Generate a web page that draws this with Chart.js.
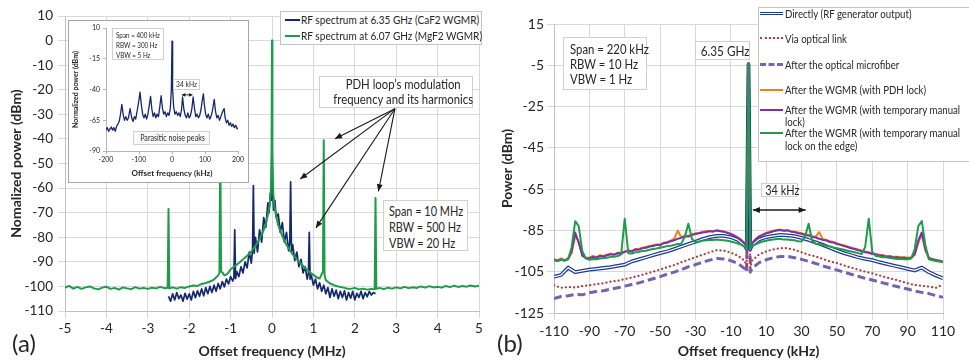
<!DOCTYPE html>
<html>
<head>
<meta charset="utf-8">
<script src="https://cdn.jsdelivr.net/npm/chart.js@4.4.1/dist/chart.umd.min.js"></script>
<style>
body{margin:0;background:#fff;font-family:Lato,sans-serif;color:#262626}
#fig{position:relative;width:969px;height:362px;overflow:hidden;background:#fff}
canvas{position:absolute;left:0;top:0}
.box{position:absolute;background:#fff;border:1px solid #d0d0d0;box-sizing:border-box;white-space:nowrap}
.t{position:absolute;white-space:nowrap;line-height:1;transform:scaleX(0.84);transform-origin:0 0}
.n{display:inline-block;transform:scaleX(0.84);transform-origin:0 0}
.c{display:inline-block;transform:scaleX(0.84);transform-origin:50% 0}
.s{position:absolute;height:0}
.lg{font-size:11.5px}
</style>
</head>
<body>
<div id="fig">
  <canvas id="chartA" width="490" height="362"></canvas>
  <canvas id="chartB" width="479" height="362" style="left:490px"></canvas>
  <div id="inset" style="position:absolute;left:68px;top:20px;width:181px;height:163px;border:1px solid #a6a6a6;background:#fff;box-sizing:border-box">
    <canvas id="chartInset" width="179" height="161"></canvas>
  </div>

  <!-- inset annotations -->
  <div class="box" style="left:112px;top:28px;width:52px;height:32px;font-size:7.5px;line-height:10px;padding:2px 0 0 3px"><span class="n">Span = 400 kHz<br>RBW = 300 Hz<br>VBW = 5 Hz</span></div>
  <div class="box" style="left:173px;top:79px;width:27px;height:11px;font-size:8px;line-height:9px;text-align:center"><span class="c">34 kHz</span></div>
  <div class="box" style="left:133px;top:131px;width:77px;height:14px;font-size:8.5px;line-height:12px;text-align:center;background:#fafafa"><span class="c">Parasitic noise peaks</span></div>

  <!-- panel (a) annotations -->
  <div class="box" style="left:280px;top:11px;width:202px;height:34px;border-color:#c4c4c4"></div>
  <div class="s" style="left:285px;top:19px;width:15px;border-top:2px solid #15286b"></div>
  <div class="t" style="left:301px;top:14px;font-size:12px">RF spectrum at 6.35 GHz (CaF2 WGMR)</div>
  <div class="s" style="left:285px;top:35px;width:15px;border-top:2px solid #1f9c4b"></div>
  <div class="t" style="left:301px;top:30px;font-size:12px">RF spectrum at 6.07 GHz (MgF2 WGMR)</div>

  <div class="box" style="left:319px;top:76px;width:154px;height:32px;text-align:center;font-size:13.5px;line-height:15px;padding-top:0"><span class="c">PDH loop’s modulation<br>frequency and its harmonics</span></div>
  <div class="box" style="left:383px;top:200px;width:85px;height:51px;font-size:13px;line-height:16px;padding:2px 0 0 5px"><span class="n">Span = 10 MHz<br>RBW = 500 Hz<br>VBW = 20 Hz</span></div>
  <div class="t" style="left:12px;top:331px;font-size:24px;transform:none">(a)</div>

  <!-- panel (b) annotations -->
  <div class="box" style="left:563px;top:37px;width:84px;height:53px;font-size:13.5px;line-height:15px;padding:4px 0 0 6px"><span class="n">Span = 220 kHz<br>RBW = 10 Hz<br>VBW = 1 Hz</span></div>
  <div class="box" style="left:695px;top:41px;width:55px;height:19px;font-size:14px;line-height:17px;text-align:center"><span class="c">6.35 GHz</span></div>
  <div class="box" style="left:761px;top:183px;width:37px;height:14px;font-size:13px;line-height:12px;text-align:center"><span class="c">34 kHz</span></div>
  <div class="t" style="left:497px;top:331px;font-size:24px;transform:none">(b)</div>

  <div class="box" style="left:758px;top:7px;width:212px;height:155px;border-color:#c4c4c4"></div>
  <div class="s" style="left:760px;top:12px;width:23px;height:1px;border-top:1.5px solid #1d3a8f;border-bottom:1.5px solid #1d3a8f;background:#fff"></div>
  <div class="t lg" style="left:785px;top:8px">Directly (RF generator output)</div>
  <div class="s" style="left:760px;top:37px;width:23px;border-top:2px dotted #b23b3b"></div>
  <div class="t lg" style="left:785px;top:33px">Via optical link</div>
  <div class="s" style="left:760px;top:63px;width:23px;border-top:3px dashed #7363b0"></div>
  <div class="t lg" style="left:785px;top:59px">After the optical microfiber</div>
  <div class="s" style="left:760px;top:89px;width:23px;border-top:2px solid #f07d1f"></div>
  <div class="t lg" style="left:785px;top:84px">After the WGMR (with PDH lock)</div>
  <div class="s" style="left:760px;top:109px;width:23px;border-top:2px solid #7a30a8"></div>
  <div class="t lg" style="left:785px;top:104px;line-height:12px">After the WGMR (with temporary manual<br>lock)</div>
  <div class="s" style="left:760px;top:132px;width:23px;border-top:2px solid #1f9c4b"></div>
  <div class="t lg" style="left:785px;top:127px;line-height:12.5px">After the WGMR (with temporary manual<br>lock on the edge)</div>
</div>

<script>
// ---- (a) dati spettro ampio, MHz / dBm ----
const freqMgF2 = [-5,-4.9,-4.8,-4.7,-4.6,-4.5,-4.4,-4.3,-4.2,-4.1,-4,-3.9,-3.8,-3.7,-3.6,-3.5,-3.4,-3.3,-3.2,-3.1,-3,-2.9,-2.8,-2.7,-2.6,-2.52,-2.5,-2.48,-2.4,-2.3,-2.2,-2.1,-2,-1.9,-1.8,-1.7,-1.6,-1.5,-1.4,-1.3,-1.27,-1.25,-1.23,-1.2,-1.15,-1.1,-1.05,-1,-0.9,-0.8,-0.7,-0.6,-0.5,-0.4,-0.3,-0.2,-0.15,-0.1,-0.06,-0.03,-0.01,0,0.01,0.03,0.06,0.1,0.15,0.2,0.3,0.4,0.5,0.6,0.7,0.8,0.9,1,1.1,1.15,1.2,1.23,1.25,1.27,1.3,1.4,1.5,1.6,1.7,1.8,1.9,2,2.1,2.2,2.3,2.4,2.48,2.5,2.52,2.6,2.7,2.8,2.9,3,3.1,3.2,3.3,3.4,3.5,3.6,3.7,3.8,3.9,4,4.1,4.2,4.3,4.4,4.5,4.6,4.7,4.8,4.9,5];
const powMgF2 = [-100.5,-99.8,-100.9,-100.2,-101.0,-100.4,-100.0,-100.8,-101.2,-100.5,-100.1,-101.0,-100.6,-101.3,-100.4,-100.8,-101.1,-100.3,-100.9,-100.6,-101.0,-100.5,-100.8,-100.2,-100.7,-100.5,-68.5,-100.8,-100.4,-100.9,-100.3,-100.6,-100.0,-99.6,-99.8,-99.0,-98.6,-98.0,-97.2,-95.5,-94.5,-40,-94.0,-94.3,-95.5,-95.2,-94.3,-93.0,-91.8,-90.5,-89.0,-87.5,-85.8,-83.5,-80.8,-77.0,-74.5,-71.0,-67.0,-62.0,-45,0,-45,-62,-67.5,-71.5,-75,-77.5,-81.5,-84.5,-87.0,-89.0,-90.8,-92.5,-94.0,-95.3,-96.5,-96.8,-95.0,-94.2,-40.5,-95.5,-97.5,-98.8,-99.5,-100.0,-100.4,-100.8,-101.0,-100.6,-101.2,-100.9,-101.3,-101.0,-101.2,-64,-101.0,-100.6,-101.1,-100.5,-100.9,-100.4,-100.8,-100.2,-100.7,-100.3,-100.6,-100.0,-100.5,-99.9,-100.4,-100.1,-100.5,-99.8,-100.3,-99.7,-100.2,-99.8,-100.1,-99.6,-100.0,-99.7];

const freqCaF2 = [-2.5,-2.45,-2.4,-2.35,-2.3,-2.25,-2.2,-2.15,-2.1,-2.05,-2,-1.95,-1.9,-1.85,-1.8,-1.75,-1.7,-1.65,-1.6,-1.55,-1.5,-1.45,-1.4,-1.35,-1.3,-1.25,-1.2,-1.15,-1.1,-1.05,-1,-0.95,-0.92,-0.9,-0.88,-0.85,-0.8,-0.75,-0.7,-0.65,-0.6,-0.55,-0.5,-0.47,-0.45,-0.43,-0.4,-0.35,-0.3,-0.25,-0.2,-0.15,-0.1,-0.07,-0.04,-0.02,0,0.02,0.04,0.07,0.1,0.15,0.2,0.25,0.3,0.35,0.4,0.43,0.45,0.47,0.5,0.55,0.6,0.65,0.7,0.75,0.8,0.85,0.88,0.9,0.92,0.95,1,1.05,1.1,1.15,1.2,1.25,1.3,1.35,1.4,1.45,1.5,1.55,1.6,1.65,1.7,1.75,1.8,1.85,1.9,1.95,2,2.05,2.1,2.15,2.2,2.25,2.3,2.35,2.4,2.45,2.5];
const powCaF2 = [-104.0,-106.0,-103.0,-105.5,-102.5,-105.0,-103.5,-106.0,-102.8,-105.2,-103.0,-105.5,-102.0,-104.6,-101.8,-104.0,-101.0,-103.8,-100.5,-103.0,-100.0,-102.5,-99.5,-102.0,-98.8,-101.0,-98.0,-100.2,-97.0,-99.0,-96.0,-97.8,-96.5,-77.0,-96.8,-94.0,-96.0,-92.0,-94.5,-90.0,-92.5,-86.0,-90.5,-85.0,-59.0,-86.5,-80.0,-86.0,-77.0,-82.0,-72.0,-76.0,-66.0,-70.0,-62.0,-65.0,-57.0,-63.0,-69.0,-65.0,-72.0,-70.5,-78.0,-74.0,-82.0,-78.0,-85.5,-82.0,-57.5,-86.0,-83.0,-89.5,-86.0,-92.0,-89.0,-94.5,-92.0,-97.0,-94.5,-78.0,-97.0,-95.5,-99.5,-97.0,-101.0,-98.5,-102.0,-99.5,-103.0,-100.5,-104.5,-101.0,-104.0,-101.5,-105.0,-102.0,-104.5,-101.8,-105.5,-102.5,-104.8,-102.0,-105.5,-102.8,-104.5,-102.0,-105.0,-102.5,-104.2,-102.0,-103.5,-102.5,-103.0];

// ---- riquadro: kHz / dBm ----
const freqInset = [-200,-196,-192,-188,-184,-180,-176,-172,-168,-164,-160,-156,-152,-148,-144,-140,-136,-132,-127,-122,-118,-114,-110,-106,-101,-97,-93,-89,-85,-81,-77,-73,-69,-65,-61,-57,-53,-49,-45,-41,-37,-33,-29,-25,-21,-17,-13,-9,-5,-2,0,2,5,9,13,17,21,25,29,32,36,40,44,48,52,56,60,64,68,72,76,80,84,88,91,95,98,102,106,110,114,118,122,128,132,136,140,144,148,153,158,161,165,169,173,177,181,185,189,193,197,200];
const powInset = [-73,-71,-74,-72,-70.5,-73,-71,-74,-70,-68,-66,-60,-52,-60,-65,-62,-65,-63,-55.5,-63,-66,-62,-64,-58,-50,-42,-52,-60,-63,-60,-64,-60,-53,-45.5,-56,-62,-59,-63,-60,-62,-54,-45,-55,-60,-58,-62,-59,-61,-55,-40,-0.5,-40,-54,-60,-58,-61,-59,-62,-56,-46,-56,-61,-63,-59,-63,-61,-56,-46,-55,-62,-60,-63,-61,-56,-50,-43.5,-52,-60,-63,-60,-64,-62,-58,-48,-58,-63,-61,-65,-62,-58,-55.5,-63,-67,-65,-69,-67,-70,-68,-71,-69,-72,-71];

// ---- (b) kHz / dBm ----
const freqFine = [-110,-108,-106,-104,-102,-100,-98,-96,-94,-92,-90,-88,-86,-84,-82,-80,-78,-76,-74,-72,-70,-68,-66,-64,-62,-60,-58,-56,-54,-52,-50,-48,-46,-44,-42,-40,-38,-36,-34,-32,-30,-28,-26,-24,-22,-20,-18,-16,-14,-12,-10,-8,-6,-4,-2,-1,0,1,2,4,6,8,10,12,14,16,18,20,22,24,26,28,30,32,34,36,38,40,42,44,46,48,50,52,54,56,58,60,62,64,66,68,70,72,74,76,78,80,82,84,86,88,90,92,94,96,98,100,102,104,106,108,110];
const powPdh = [-99.0,-99.4,-98.6,-99.4,-98.8,-96.0,-87.5,-90.5,-96.8,-98.2,-98.2,-97.4,-98.0,-97.0,-97.4,-96.8,-96.2,-96.6,-95.8,-95.8,-95.2,-94.6,-95.0,-94.0,-94.0,-93.4,-93.0,-92.6,-92.2,-91.8,-91.8,-91.0,-90.6,-90.0,-89.0,-85.0,-88.4,-87.6,-87.6,-87.0,-86.4,-86.2,-85.8,-85.4,-85.2,-85.4,-85.0,-85.2,-85.6,-86.0,-86.6,-87.4,-88.4,-89.6,-91.4,-93.0,-4.0,-93.0,-91.2,-89.2,-87.8,-87.0,-86.2,-85.6,-85.2,-84.8,-84.6,-85.0,-84.8,-85.4,-85.6,-86.0,-86.4,-86.8,-87.2,-87.8,-88.0,-85.8,-89.2,-89.6,-90.2,-90.6,-91.2,-91.8,-92.2,-92.8,-93.2,-93.8,-94.2,-94.8,-95.2,-95.6,-96.0,-96.4,-96.8,-97.0,-97.4,-97.4,-97.8,-97.8,-98.0,-98.0,-98.2,-98.0,-96.8,-91.0,-87.0,-94.6,-98.2,-98.8,-99.2,-99.6,-100.0];
const powManual = [-99.2,-99.8,-99.0,-99.6,-98.6,-95.0,-86.0,-91.0,-97.2,-98.4,-98.6,-97.8,-98.2,-97.4,-97.6,-97.0,-96.6,-96.8,-96.0,-96.2,-95.4,-95.0,-95.2,-94.2,-94.4,-93.6,-93.4,-92.8,-92.6,-92.0,-92.2,-91.2,-91.0,-90.2,-89.8,-89.0,-88.6,-87.8,-88.0,-87.2,-86.8,-86.4,-86.0,-85.8,-85.4,-85.6,-85.0,-85.4,-85.6,-86.2,-86.8,-87.6,-88.6,-89.8,-91.6,-93.0,-4.0,-93.2,-91.4,-89.4,-88.0,-87.2,-86.4,-86.0,-85.4,-85.0,-84.8,-85.2,-85.0,-85.6,-85.8,-86.4,-86.6,-87.2,-87.4,-88.2,-88.4,-89.0,-89.6,-89.8,-90.6,-90.8,-91.6,-92.0,-92.6,-93.0,-93.6,-94.0,-94.6,-95.0,-95.6,-95.8,-96.4,-96.6,-97.2,-97.2,-97.8,-97.6,-98.2,-98.0,-98.4,-98.2,-98.6,-98.4,-96.6,-90.0,-86.0,-94.0,-98.4,-99.0,-99.4,-99.8,-100.4];
const powEdge = [-99.4,-99.8,-99.2,-99.6,-99.0,-93.0,-80.5,-83.0,-95.0,-98.6,-99.2,-98.8,-99.0,-98.6,-98.4,-98.2,-97.8,-97.8,-97.4,-96.6,-79.3,-96.0,-96.2,-95.6,-95.4,-95.0,-94.8,-94.4,-94.0,-93.8,-93.4,-93.0,-92.6,-92.4,-92.0,-91.6,-91.4,-88.0,-81.8,-89.0,-90.8,-90.4,-90.0,-89.8,-89.6,-89.6,-89.4,-89.6,-89.8,-90.0,-90.4,-90.8,-91.4,-92.0,-93.0,-93.6,-4.2,-93.6,-92.6,-91.8,-91.0,-90.4,-90.0,-89.6,-89.4,-89.2,-89.2,-89.4,-89.4,-89.6,-89.8,-90.2,-90.4,-88.0,-81.8,-90.0,-91.4,-91.6,-92.0,-92.4,-92.8,-93.2,-93.6,-94.0,-94.4,-94.8,-95.2,-95.6,-96.0,-96.4,-93.0,-79.3,-95.4,-97.4,-97.6,-98.0,-98.0,-98.4,-98.6,-98.8,-98.8,-99.0,-99.0,-98.6,-94.0,-83.0,-80.5,-92.0,-99.0,-99.4,-99.8,-100.0,-100.4];

const freqCoarse = [-110,-106,-102,-98,-94,-90,-86,-82,-78,-74,-70,-66,-62,-58,-54,-50,-46,-42,-38,-34,-30,-26,-22,-18,-14,-10,-6,-2,-1,0,1,2,6,10,14,18,22,26,30,34,38,42,46,50,54,58,62,66,70,74,78,82,86,90,94,98,102,106,110];
const powDirect = [-107.4,-106.6,-103.0,-105.2,-104.6,-104.0,-103.6,-103.2,-102.8,-102.2,-101.6,-100.0,-99.0,-98.0,-97.0,-96.0,-95.2,-94.0,-92.8,-91.6,-90.5,-89.2,-88.2,-87.6,-87.6,-88.2,-89.6,-92.4,-94.0,-4.5,-94.0,-92.0,-89.4,-88.2,-87.6,-87.2,-87.4,-87.8,-88.6,-89.6,-90.8,-92.0,-93.4,-94.8,-96.0,-97.0,-98.0,-98.8,-99.4,-100.4,-101.2,-102.0,-102.8,-103.6,-104.4,-103.0,-105.2,-106.8,-108.2];
const powLink = [-111.6,-112.8,-112.4,-112.6,-112.0,-111.6,-111.0,-110.6,-109.8,-109.4,-108.6,-107.8,-107.0,-106.0,-105.0,-104.0,-102.8,-101.8,-100.4,-99.2,-98.0,-96.8,-95.6,-94.6,-94.8,-95.8,-97.2,-99.8,-103.0,-4.8,-103.0,-99.6,-96.6,-95.2,-94.2,-93.6,-93.6,-94.4,-95.6,-96.8,-97.6,-98.8,-100.0,-100.8,-102.0,-103.0,-104.0,-105.0,-105.8,-106.8,-107.8,-108.6,-109.6,-110.6,-111.4,-111.8,-112.2,-112.8,-111.2];
const powFiber = [-118.0,-117.0,-116.6,-116.0,-116.2,-115.2,-114.6,-114.2,-113.4,-112.8,-112.0,-111.2,-110.4,-109.4,-108.4,-107.4,-106.2,-105.2,-104.0,-102.6,-101.6,-100.4,-99.4,-98.6,-98.8,-99.6,-101.0,-103.6,-105.2,-5.0,-105.2,-103.4,-100.6,-99.2,-98.2,-97.6,-97.6,-98.2,-99.0,-100.0,-101.0,-102.2,-103.2,-104.2,-105.2,-106.2,-107.2,-108.2,-109.0,-110.0,-110.8,-111.8,-112.6,-113.4,-114.4,-115.0,-115.6,-116.6,-117.4];

// frecce delle annotazioni, in coordinate dati [x, y]
const arrowsA = [
  {from:[2.97,-27.7], to:[1.52,-39.9]},
  {from:[2.97,-27.7], to:[0.68,-56.3]},
  {from:[2.97,-27.7], to:[1.06,-76.2]},
  {from:[2.97,-27.7], to:[2.57,-61.3]}
];
const arrowsInset = [{from:[30,-44.3], to:[62,-44.3], both:true}];
const arrowsB = [{from:[2.5,-75.1], to:[32.3,-75.1], both:true}];

const pts = (xs, ys) => xs.map((v, i) => ({x: v, y: ys[i]}));
const FONT = 'Lato';
const TXT = '#262626';

function arrowPlugin(list, head, half, width) {
  return {
    id: 'arrows',
    afterDraw(chart) {
      const {ctx} = chart;
      const sx = chart.scales.x, sy = chart.scales.y;
      ctx.save();
      ctx.strokeStyle = '#1a1a1a';
      ctx.fillStyle = '#1a1a1a';
      ctx.lineWidth = width;
      list.forEach(a => {
        const x1 = sx.getPixelForValue(a.from[0]), y1 = sy.getPixelForValue(a.from[1]);
        const x2 = sx.getPixelForValue(a.to[0]), y2 = sy.getPixelForValue(a.to[1]);
        ctx.beginPath(); ctx.moveTo(x1, y1); ctx.lineTo(x2, y2); ctx.stroke();
        const tip = (px, py, qx, qy) => {
          const ang = Math.atan2(py - qy, px - qx);
          ctx.beginPath();
          ctx.moveTo(px, py);
          ctx.lineTo(px - head * Math.cos(ang) + half * Math.sin(ang), py - head * Math.sin(ang) - half * Math.cos(ang));
          ctx.lineTo(px - head * Math.cos(ang) - half * Math.sin(ang), py - head * Math.sin(ang) + half * Math.cos(ang));
          ctx.closePath(); ctx.fill();
        };
        tip(x2, y2, x1, y1);
        if (a.both) tip(x1, y1, x2, y2);
      });
      ctx.restore();
    }
  };
}

function axis(min, max, step, size, fit, title, tsize, tpad, grid) {
  return {
    type: 'linear', min: min, max: max,
    afterFit: fit,
    ticks: {stepSize: step, maxTicksLimit: 40, autoSkip: false, maxRotation: 0, color: TXT, font: {family: FONT, size: size}, padding: grid.pad},
    grid: grid.on ? {color: '#d9d9d9', tickLength: 7} : {drawOnChartArea: false, color: '#b5b5b5', tickLength: 3},
    border: {color: grid.on ? '#bfbfbf' : '#b5b5b5'},
    title: {display: true, text: title, color: TXT, font: {family: FONT, size: tsize, weight: 'bold'}, padding: tpad}
  };
}

const base = {
  responsive: false, animation: false, events: [],
  plugins: {legend: {display: false}, tooltip: {enabled: false}},
  elements: {point: {radius: 0}, line: {tension: 0, borderJoinStyle: 'round'}}
};

// pannello (a)
new Chart(document.getElementById('chartA'), {
  type: 'line',
  data: {datasets: [
    {label: 'RF spectrum at 6.35 GHz (CaF2 WGMR)', data: pts(freqCaF2, powCaF2), borderColor: '#15286b', borderWidth: 1.7, order: 1},
    {label: 'RF spectrum at 6.07 GHz (MgF2 WGMR)', data: pts(freqMgF2, powMgF2), borderColor: '#1f9c4b', borderWidth: 2, order: 0}
  ]},
  options: Object.assign({}, base, {
    layout: {padding: {top: 16, right: 11, bottom: 0, left: 0}},
    scales: {
      x: axis(-5, 5, 1, 13.5, s => { s.height = 51; }, 'Offset frequency (MHz)', 14, {top: 0, bottom: 2}, {on: true, pad: 3}),
      y: axis(-110, 10, 10, 13.5, s => { s.width = 65; }, 'Nomalized power (dBm)', 14, {top: 8, bottom: 0}, {on: true, pad: 5})
    }
  }),
  plugins: [arrowPlugin(arrowsA, 7, 3, 1.1)]
});

// riquadro
new Chart(document.getElementById('chartInset'), {
  type: 'line',
  data: {datasets: [
    {label: 'inset', data: pts(freqInset, powInset), borderColor: '#15286b', borderWidth: 1.3}
  ]},
  options: Object.assign({}, base, {
    layout: {padding: {top: 6, right: 10, bottom: 0, left: 0}},
    scales: {
      x: axis(-200, 200, 100, 7, s => { s.height = 31; }, 'Offset frequency (kHz)', 8, {top: 0, bottom: 4}, {on: false, pad: 2}),
      y: axis(-90, 10, 25, 7, s => { s.width = 37; }, 'Normalized power (dBm)', 7, {top: 3, bottom: 0}, {on: false, pad: 3})
    }
  }),
  plugins: [arrowPlugin(arrowsInset, 3.5, 1.8, 0.9)]
});

// pannello (b)
new Chart(document.getElementById('chartB'), {
  type: 'line',
  data: {datasets: [
    {label: 'Directly (RF generator output)', data: pts(freqCoarse, powDirect), borderColor: '#1d3a8f', borderWidth: 3.8, order: 4},
    {label: 'Directly (inner)', data: pts(freqCoarse, powDirect), borderColor: '#ffffff', borderWidth: 1.3, order: 3},
    {label: 'Via optical link', data: pts(freqCoarse, powLink), borderColor: '#b23b3b', borderWidth: 2.2, borderDash: [0.1, 4], borderCapStyle: 'round', order: 5},
    {label: 'After the optical microfiber', data: pts(freqCoarse, powFiber), borderColor: '#7363b0', borderWidth: 3, borderDash: [8, 4], order: 6},
    {label: 'After the WGMR (with PDH lock)', data: pts(freqFine, powPdh), borderColor: '#f07d1f', borderWidth: 2, order: 2},
    {label: 'After the WGMR (with temporary manual lock)', data: pts(freqFine, powManual), borderColor: '#7a30a8', borderWidth: 2, order: 1},
    {label: 'After the WGMR (with temporary manual lock on the edge)', data: pts(freqFine, powEdge), borderColor: '#1f9c4b', borderWidth: 2, order: 0}
  ]},
  options: Object.assign({}, base, {
    layout: {padding: {top: 24, right: 26, bottom: 0, left: 0}},
    scales: {
      x: axis(-110, 110, 20, 14, s => { s.height = 49; }, 'Offset frequency (kHz)', 14, {top: 0, bottom: 2}, {on: true, pad: 3}),
      y: axis(-125, 15, 20, 14, s => { s.width = 64; }, 'Power (dBm)', 14, {top: 9, bottom: 0}, {on: true, pad: 3})
    }
  }),
  plugins: [arrowPlugin(arrowsB, 7, 3, 1.3)]
});
</script>
</body>
</html>
